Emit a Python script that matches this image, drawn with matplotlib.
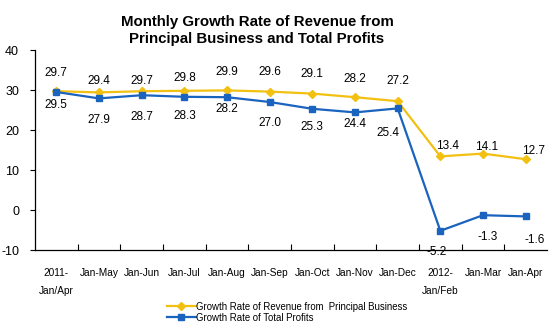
import numpy as np
import matplotlib.pyplot as plt
from matplotlib.ticker import FixedLocator

plt.rcParams['font.family'] = ['Liberation Sans', 'DejaVu Sans']
plt.rcParams['axes.unicode_minus'] = False

# data
categories = ['2011-\nJan/Apr', 'Jan-May', 'Jan-Jun', 'Jan-Jul', 'Jan-Aug', 'Jan-Sep',
              'Jan-Oct', 'Jan-Nov', 'Jan-Dec', '2012-\nJan/Feb', 'Jan-Mar', 'Jan-Apr']
revenue = [29.7, 29.4, 29.7, 29.8, 29.9, 29.6, 29.1, 28.2, 27.2, 13.4, 14.1, 12.7]
profits = [29.5, 27.9, 28.7, 28.3, 28.2, 27.0, 25.3, 24.4, 25.4, -5.2, -1.3, -1.6]

# label offsets in pixels (dx, dy), as placed in the original
rev_off = [(0, 18), (0, 11), (0, 10), (0, 13), (0, 18), (0, 20), (0, 20), (0, 18), (0, 20),
           (7, 10), (4, 7), (8, 8)]
pro_off = [(0, -13), (0, -22), (0, -22), (0, -19), (0, -12), (0, -21), (0, -18), (0, -12),
           (-10, -25), (-4, -21), (5, -22), (9, -24)]

yellow = '#F2C010'
blue = '#1A63BE'

fig = plt.figure(figsize=(5.5, 3.35), dpi=100)
ax = fig.add_axes([35/550, 1-250/335, 512/550, 200/335])

x = np.arange(len(categories))
l1, = ax.plot(x, revenue, color=yellow, lw=1.6, marker='D', ms=4.5,
              label='Growth Rate of Revenue from  Principal Business')
l2, = ax.plot(x, profits, color=blue, lw=1.6, marker='s', ms=4.5,
              label='Growth Rate of Total Profits')

for i in range(len(x)):
    ax.annotate('%.1f' % revenue[i], (x[i], revenue[i]), xytext=rev_off[i],
                textcoords='offset pixels', ha='center', va='center', fontsize=8.5)
    ax.annotate('%.1f' % profits[i], (x[i], profits[i]), xytext=pro_off[i],
                textcoords='offset pixels', ha='center', va='center', fontsize=8.5)

ax.set_xlim(-0.5, len(x) - 0.5)
ax.set_ylim(-10, 40)
ax.set_yticks([-10, 0, 10, 20, 30, 40])
ax.set_xticks(x)
ax.set_xticklabels(categories, fontsize=7.3, linespacing=2.0)
ax.xaxis.set_minor_locator(FixedLocator(np.arange(0.5, len(x) - 0.5, 1)))
ax.tick_params(axis='x', which='major', length=0, pad=13)
ax.tick_params(axis='x', which='minor', direction='in', length=4, width=0.8)
ax.tick_params(axis='y', direction='out', length=3.5, width=0.8, pad=8, labelsize=9)

for s in ['top', 'right']:
    ax.spines[s].set_visible(False)
for s in ['left', 'bottom']:
    ax.spines[s].set_linewidth(0.9)

fig.text(257/550, 1-30.5/335, 'Monthly Growth Rate of Revenue from\nPrincipal Business and Total Profits',
         ha='center', va='center', fontsize=10.8, fontweight='bold', linespacing=1.32)

fig.legend(handles=[l1, l2], loc='upper left', bbox_to_anchor=(162/550, 1-297/335),
           frameon=False, handlelength=3, handletextpad=0.1, labelspacing=0.1,
           prop={'size': 6.9}, borderpad=0)

fig.savefig('out.png', dpi=100)
